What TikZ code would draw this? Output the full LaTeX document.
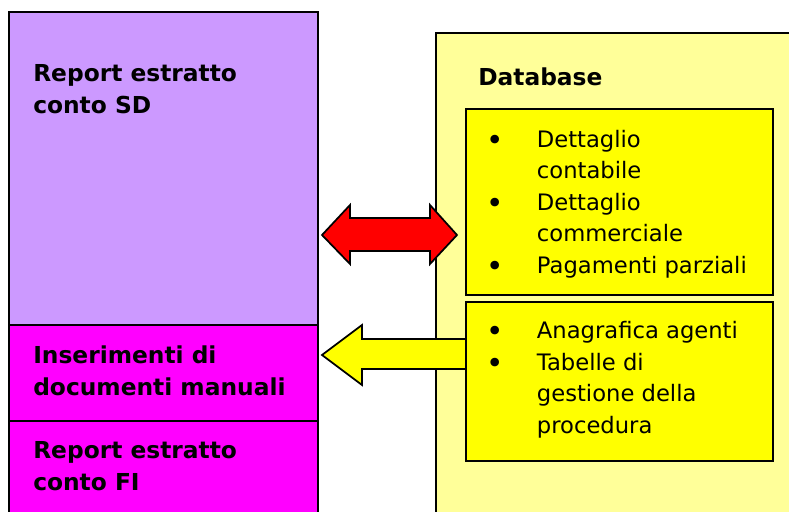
\documentclass[tikz,border=0pt]{standalone}
\usepackage{fontspec}
\setmainfont{DejaVu Sans}
\usepackage{tikz}

\definecolor{lilla}{HTML}{CC99FF}
\definecolor{fucsia}{HTML}{FF00FF}
\definecolor{giallino}{HTML}{FFFF99}
\definecolor{giallo}{HTML}{FFFF00}
\definecolor{rosso}{HTML}{FF0000}

\newcommand{\blt}{\makebox[38pt][l]{\raisebox{-2.4pt}{\scalebox{1.3}{\textbullet}}}}
\newcommand{\ind}{\hspace*{38pt}}

\begin{document}
\begin{tikzpicture}[x=0.75pt,y=-0.75pt,
    box/.style={draw,line width=1.3pt},
    lbl/.style={anchor=base west,inner sep=0pt,align=left,font=\bfseries\fontsize{17.5}{23.6}\selectfont},
    item/.style={anchor=base west,inner sep=0pt,align=left,font=\fontsize{17}{23.6}\selectfont}]
\useasboundingbox (0,0) rectangle (789,511);

% colonna sinistra
\filldraw[box,fill=lilla] (9,12) rectangle (318,325);
\filldraw[box,fill=fucsia] (9,325) rectangle (318,421);
\filldraw[box,fill=fucsia] (9,421) rectangle (318,530);

% database
\filldraw[box,fill=giallino] (436,33) rectangle (810,530);

% frecce
\filldraw[box,fill=rosso] (322,235) -- (350,205) -- (350,218) -- (430,218) -- (430,205)
    -- (457,235) -- (430,264) -- (430,251) -- (350,251) -- (350,264) -- cycle;
\filldraw[box,fill=giallo] (322,355) -- (362,325) -- (362,339) -- (468,339)
    -- (468,369) -- (362,369) -- (362,385) -- cycle;

\filldraw[box,fill=giallo] (466,109) rectangle (773,295);
\filldraw[box,fill=giallo] (466,302) rectangle (773,461);

% testi (base = ultima riga)
\begin{scope}[every node/.style={lbl}]
    \node (sd) at (33,113) {Report estratto\\conto SD};
    \node (man) at (33,395) {Inserimenti di\\documenti manuali};
    \node (fi) at (33,490) {Report estratto\\conto FI};
    \node (db) at (478,85) {Database};
\end{scope}

\begin{scope}[every node/.style={item}]
    \node (det) at (486,273) {\blt Dettaglio\\\ind contabile\\\blt Dettaglio\\\ind commerciale\\\blt Pagamenti parziali};
    \node (ana) at (486,433) {\blt Anagrafica agenti\\\blt Tabelle di\\\ind gestione della\\\ind procedura};
\end{scope}

\end{tikzpicture}
\end{document}
